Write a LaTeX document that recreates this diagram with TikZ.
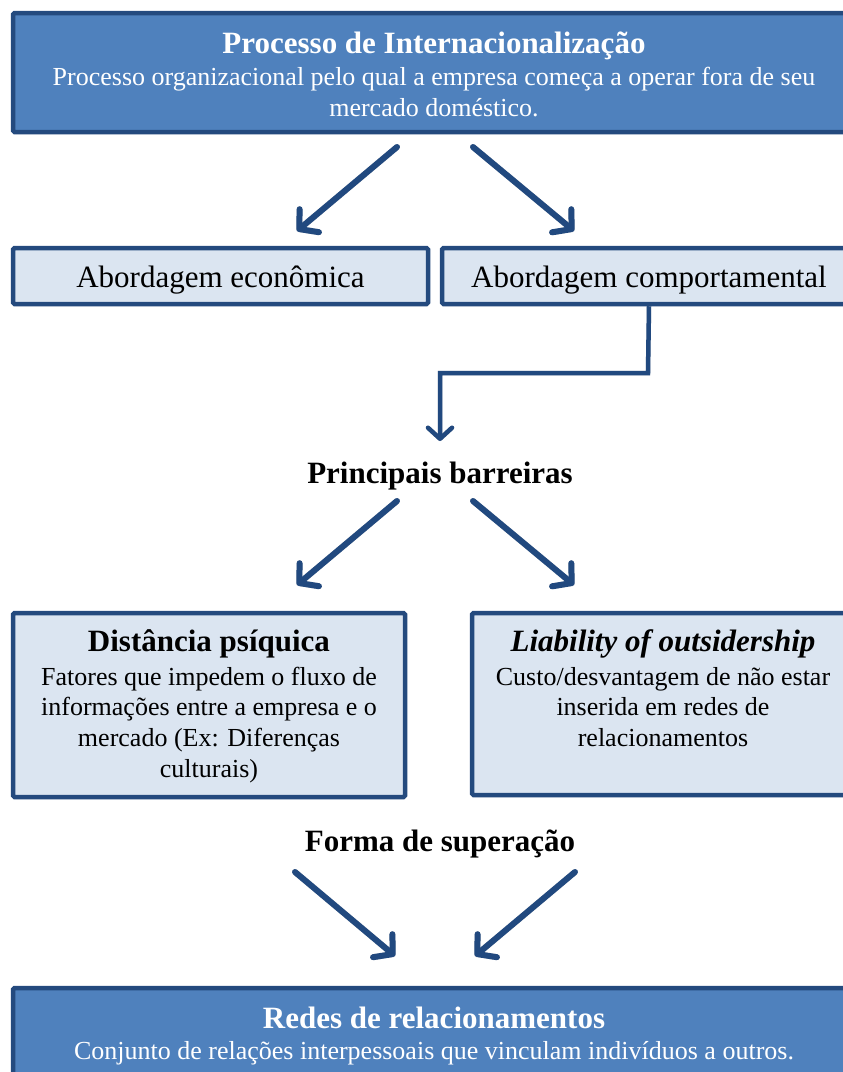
\documentclass[tikz,border=0pt]{standalone}
\usepackage{fontspec}
\setmainfont{Liberation Serif}
\usetikzlibrary{arrows.meta,shadows}

\definecolor{boxedge}{HTML}{244A7E}
\definecolor{darkfill}{HTML}{4F81BD}
\definecolor{lightfill}{HTML}{DBE5F1}
\definecolor{arrowblue}{HTML}{21497F}

\newcommand{\headfont}{\fontsize{31}{36}\selectfont\bfseries}
\newcommand{\bodyfont}{\fontsize{26}{31}\selectfont}
\newcommand{\smallbodyfont}{\fontsize{26}{30.7}\selectfont}
\newcommand{\labelfont}{\fontsize{31}{36}\selectfont}
% fixed-height strut so that a heading line always starts 30pt above its baseline
\newcommand{\headstrut}{\rule{0pt}{30pt}}

\begin{document}
\begin{tikzpicture}[x=1pt,y=-1pt,
  panel/.style={draw=boxedge, line width=4.5pt, rounded corners=1.5pt,
    inner sep=0pt,
    drop shadow={shadow xshift=1.5pt, shadow yshift=-2pt, opacity=0.25}},
  darkpanel/.style={panel, fill=darkfill},
  lightpanel/.style={panel, fill=lightfill},
  onelinepanel/.style={lightpanel, font=\labelfont, text height=25pt, text depth=2.4pt},
  paneltext/.style={inner sep=0pt, align=center, anchor=north},
  plainlabel/.style={inner sep=0pt, align=center, font=\headfont},
  bigarrow/.style={draw=arrowblue, line width=6pt, line cap=round,
    -{Straight Barb[length=13pt, width=30pt, line cap=round, line join=round]}},
  arrowshade/.style={bigarrow, draw=black, opacity=0.18, shift={(1.5,2.5)}},
  elbow/.style={draw=arrowblue, line width=4.5pt,
    -{Straight Barb[length=11pt, width=24pt, line cap=round, line join=round]}},
  elbowshade/.style={elbow, draw=black, opacity=0.18, shift={(1.5,2.5)}}
]
\useasboundingbox (0,0) rectangle (843,1072);
\clip (0,0) rectangle (843,1072);

% panels
\node[darkpanel, minimum width=842, minimum height=119] (procbox) at (434,72.5) {};
\node[onelinepanel, minimum width=415, minimum height=56] (econ) at (220.5,276)
  {Abordagem econômica};
\node[onelinepanel, minimum width=414, minimum height=56] (comp) at (649,276)
  {Abordagem comportamental};
\node[lightpanel, minimum width=392, minimum height=184] (distbox) at (209,705) {};
\node[lightpanel, minimum width=382, minimum height=182] (liabbox) at (663,704) {};
\node[darkpanel, minimum width=842, minimum height=119] (redesbox) at (434,1047.5) {};

% panel texts
\node[paneltext, text=white, font=\bodyfont] (proc) at (434,23.3)
  {{\headfont\headstrut Processo de Internacionalização}\\[0.7pt]
   Processo organizacional pelo qual a empresa começa a operar fora de seu\\
   mercado doméstico.};

\node[paneltext, font=\smallbodyfont] (dist) at (209,621.7)
  {{\headfont\headstrut Distância psíquica}\\[2.5pt]
   Fatores que impedem o fluxo de\\
   informações entre a empresa e o\\
   mercado (Ex: Diferenças\\
   culturais)};

\node[paneltext, font=\smallbodyfont] (liab) at (663,621.7)
  {{\headfont\itshape\headstrut Liability of outsidership}\\[2.5pt]
   Custo/desvantagem de não estar\\
   inserida em redes de\\
   relacionamentos};

\node[paneltext, text=white, font=\bodyfont] (redes) at (434,998)
  {{\headfont\headstrut Redes de relacionamentos}\\[0.7pt]
   Conjunto de relações interpessoais que vinculam indivíduos a outros.};

% free-standing headings
\node[plainlabel] (barr) at (440,476) {Principais barreiras};
\node[plainlabel] (forma) at (440,844) {Forma de superação};

% arrow ends
\coordinate (a1s) at (397,147);  \coordinate (a1t) at (297,231);
\coordinate (a2s) at (473,147);  \coordinate (a2t) at (574,231);
\coordinate (a3s) at (397,501);  \coordinate (a3t) at (297,585);
\coordinate (a4s) at (473,501);  \coordinate (a4t) at (574,585);
\coordinate (a5s) at (295,872);  \coordinate (a5t) at (395,956);
\coordinate (a6s) at (575,872);  \coordinate (a6t) at (475,956);
\coordinate (bend) at (648,373);
\coordinate (etip) at (440,441);

\foreach \s/\t in {a1s/a1t, a2s/a2t, a3s/a3t, a4s/a4t, a5s/a5t, a6s/a6t}{
  \draw[arrowshade] (\s) -- (\t);
  \draw[bigarrow] (\s) -- (\t);
}

% elbow connector from the behavioural approach down to the barriers
\draw[elbowshade] (comp.south) -- (bend) -| (etip);
\draw[elbow] (comp.south) -- (bend) -| (etip);
\end{tikzpicture}
\end{document}
